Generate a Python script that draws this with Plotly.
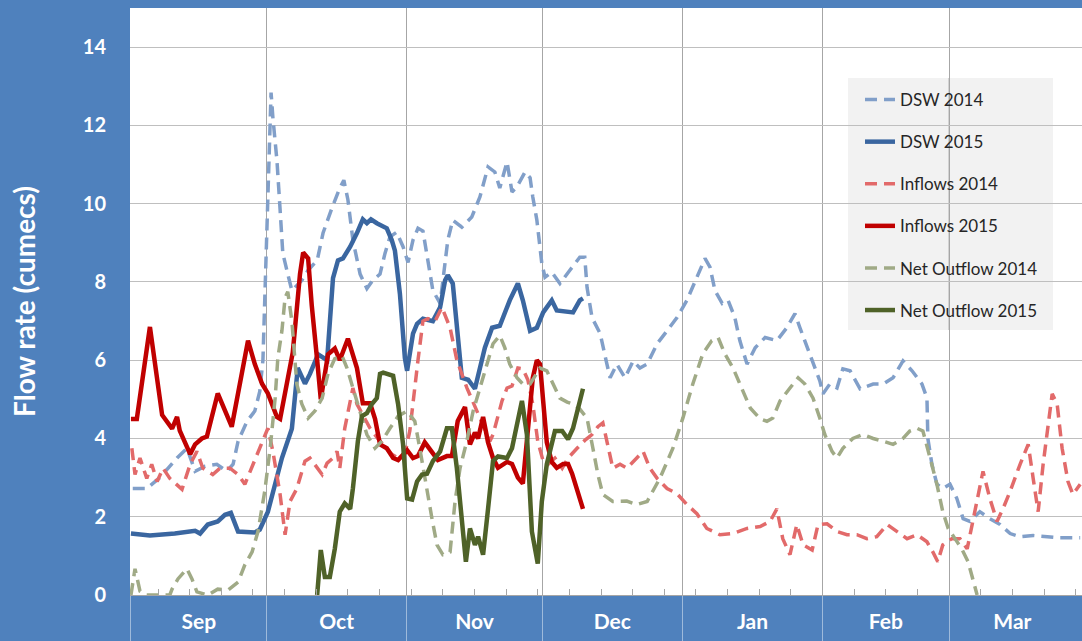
import pandas as pd
import plotly.graph_objects as go

# ---- data: day offsets from 1 Sep (season start) and flow values (cumecs) ----
season_start = "2014-09-01"
month_labels = ["Sep", "Oct", "Nov", "Dec", "Jan", "Feb", "Mar"]

dsw2014_days = [0.4, 3.5, 6.4, 10.2, 12.4, 14.2, 16.4, 19.0, 21.2, 22.6, 23.7, 25.7, 27.4, 28.5, 29.2, 30.3, 31.0, 31.4,
                32.3, 33.0, 33.6, 34.7, 35.6, 37.8, 39.2, 41.2, 42.5, 44.5, 46.2, 47.1, 48.0, 49.1, 50.7, 52.2, 53.5,
                55.1, 56.2, 57.3, 58.8, 60.2, 61.3, 62.4, 63.5, 64.6, 65.7, 66.8, 68.4, 70.1, 71.2, 73.2, 75.4, 77.2,
                79.0, 80.5, 81.6, 83.2, 84.3, 85.4, 87.2, 88.3, 88.9, 89.8, 90.9, 91.6, 93.1, 94.9, 97.1, 99.3, 100.4,
                100.9, 102.0, 103.8, 105.3, 106.0, 107.5, 109.3, 111.1, 112.6, 114.2, 116.4, 118.6, 120.8, 123.0,
                125.2, 127.0, 128.1, 129.2, 130.8, 132.1, 133.6, 134.7, 136.3, 138.1, 140.3, 142.9, 145.1, 146.9,
                148.0, 149.6, 150.9, 152.4, 153.1, 154.6, 156.2, 157.5, 159.1, 161.3, 164.2, 166.4, 168.6, 170.8,
                172.8, 175.0, 176.1, 176.3, 177.2, 178.3, 179.6, 181.2, 182.7, 184.1, 185.6, 187.8, 190.0, 192.3,
                194.5, 196.7, 199.6, 202.7, 205.5, 210.0]
dsw2014_vals = [2.72, 2.72, 3.0, 3.5, 3.75, 3.16, 3.29, 3.34, 3.16, 3.34, 3.93, 4.44, 4.7, 5.2, 6.0, 10.3, 12.84, 12.2,
                11.1, 9.84, 8.73, 8.2, 7.78, 8.04, 8.3, 8.55, 9.25, 9.9, 10.4, 10.6, 10.1, 9.07, 8.2, 7.83, 8.04,
                8.2, 8.73, 9.15, 9.27, 8.9, 8.5, 9.07, 9.37, 9.3, 8.47, 7.78, 7.45, 9.07, 9.58, 9.4, 9.66, 10.17,
                10.94, 10.81, 10.4, 11.07, 10.3, 10.43, 10.81, 10.66, 10.17, 9.58, 8.47, 8.12, 8.25, 7.96, 8.3, 8.63,
                8.63, 7.86, 7.09, 6.68, 5.9, 5.55, 5.9, 5.55, 5.98, 5.8, 5.9, 6.42, 6.75, 7.09, 7.53, 8.12, 8.6,
                8.38, 7.78, 7.45, 7.53, 7.09, 6.5, 5.9, 6.32, 6.58, 6.5, 6.83, 7.19, 6.83, 6.32, 5.9, 5.47, 5.14,
                5.39, 5.29, 5.78, 5.73, 5.27, 5.39, 5.39, 5.55, 5.98, 5.73, 5.39, 5.03, 4.0, 3.34, 2.83, 2.72, 2.83,
                2.47, 1.95, 1.88, 2.13, 1.95, 1.8, 1.57, 1.49, 1.52, 1.49, 1.46, 1.46]

dsw2015_days = [0, 4.2, 9.7, 14.2, 15.3, 17.0, 19.2, 20.8, 22.1, 23.7, 27.4, 28.5, 30.3, 31.9, 33.4, 35.6, 36.9, 38.5,
                39.6, 41.4, 42.9, 43.4, 44.7, 45.8, 46.9, 48.5, 50.0, 51.3, 52.2, 53.1, 54.4, 55.8, 56.6, 57.7, 58.4,
                59.5, 60.6, 61.1, 62.4, 63.3, 64.6, 66.8, 68.4, 69.5, 70.1, 71.2, 72.1, 73.2, 74.6, 76.1, 78.3, 79.9,
                81.6, 83.8, 85.6, 86.7, 88.3, 89.8, 91.2, 93.1, 94.2, 96.5, 97.8, 99.3, 100.0]
dsw2015_vals = [1.57, 1.52, 1.57, 1.64, 1.57, 1.8, 1.88, 2.05, 2.1, 1.62, 1.6, 1.67, 2.13, 2.8, 3.5, 4.25, 5.8, 5.4,
                5.65, 6.15, 6.05, 6.0, 8.1, 8.55, 8.6, 8.9, 9.25, 9.6, 9.5, 9.6, 9.5, 9.4, 9.37, 9.07, 8.8,
                7.7, 6.06, 5.73, 6.68, 6.93, 7.06, 7.0, 7.35, 8.04, 8.17, 7.96, 6.83, 5.55, 5.5, 5.27, 6.32, 6.83,
                6.88, 7.53, 7.96, 7.53, 6.75, 6.83, 7.22, 7.53, 7.27, 7.22, 7.22, 7.53, 7.58]

inflow2014_days = [0.2, 0.9, 2.0, 3.5, 4.6, 5.8, 7.1, 8.6, 11.3, 13.1, 14.6, 15.9, 18.1, 19.7, 21.9, 23.7, 25.2, 27.0,
                   29.0, 30.3, 31.4, 33.0, 34.1, 35.2, 36.7, 38.5, 39.6, 40.7, 42.3, 43.4, 44.7, 45.6, 46.2, 47.3,
                   48.5, 49.1, 50.0, 51.3, 52.9, 54.6, 56.2, 57.7, 59.1, 60.6, 61.7, 62.6, 63.5, 64.6, 65.7, 67.3,
                   68.8, 70.6, 72.1, 74.3, 76.5, 77.9, 79.4, 80.1, 82.1, 83.2, 84.3, 85.6, 86.7, 87.8, 88.9, 90.0,
                   91.2, 92.3, 93.8, 95.4, 96.7, 98.7, 100.4, 102.0, 103.3, 104.4, 105.5, 106.6, 108.2, 109.7, 111.9,
                   113.3, 114.8, 116.4, 118.6, 120.8, 123.0, 125.2, 127.4, 130.3, 133.2, 136.3, 139.2, 141.4, 142.9,
                   144.2, 145.8, 147.3, 148.7, 150.7, 152.0, 154.0, 156.2, 158.4, 160.6, 162.8, 165.0, 167.3, 169.5,
                   171.7, 173.9, 176.1, 177.4, 178.5, 179.6, 181.6, 183.4, 185.0, 186.1, 187.2, 188.5, 190.0, 191.6,
                   192.9, 194.5, 196.7, 198.5, 199.6, 200.7, 201.8, 203.8, 204.9, 206.0, 207.3, 208.4, 210.0]
inflow2014_vals = [3.75, 3.08, 3.5, 2.98, 3.34, 2.9, 3.24, 2.98, 2.7, 3.34, 3.67, 3.24, 3.08, 3.24, 3.24, 3.08, 2.83, 3.34,
                   3.93, 4.26, 3.67, 2.57, 1.54, 2.39, 2.72, 3.42, 3.5, 3.34, 3.08, 3.37, 3.5, 3.67, 3.24, 4.26,
                   5.03, 5.29, 4.88, 4.62, 4.26, 4.0, 3.8, 3.6, 3.5, 3.6, 4.2, 5.2, 6.0, 7.0, 7.06, 7.0,
                   7.35, 6.83, 6.0, 5.3, 4.7, 4.37, 3.93, 4.1, 4.96, 5.29, 5.34, 5.8, 5.78, 5.5, 4.88, 3.93,
                   3.42, 3.34, 3.5, 3.24, 3.5, 3.75, 3.95, 4.1, 4.3, 4.4, 3.85, 3.24, 3.34, 3.24, 3.5,
                   3.67, 3.24, 2.98, 2.72, 2.59, 2.31, 2.08, 1.7, 1.54, 1.57, 1.7, 1.75, 1.88, 2.2,
                   1.44, 1.03, 1.8, 1.28, 1.15, 1.8, 1.82, 1.62, 1.54, 1.54, 1.44, 1.49, 1.8, 1.62,
                   1.44, 1.54, 1.36, 1.1, 0.85, 1.28, 1.44, 1.44, 1.18, 1.8, 2.47, 3.16, 2.47, 1.88,
                   2.2, 2.65, 3.34, 3.85, 2.98, 2.13, 3.34, 5.14, 4.88, 3.75, 2.9, 2.57, 2.83]

inflow2015_days = [0, 1.3, 4.2, 6.9, 9.1, 10.2, 10.8, 13.1, 14.2, 15.7, 16.8, 19.2, 22.3, 25.9, 27.4, 29.0, 30.3, 32.3,
                   33.0, 34.7, 35.8, 37.4, 38.1, 39.2, 40.0, 41.2, 42.0, 43.6, 45.1, 46.2, 48.0, 50.0, 51.3, 52.9,
                   54.0, 55.1, 56.6, 58.0, 59.1, 61.1, 62.4, 63.5, 65.0, 66.6, 67.9, 69.9, 71.0, 72.3, 73.9, 75.0,
                   76.1, 76.8, 77.9, 79.0, 80.1, 81.2, 83.2, 84.3, 85.6, 86.7, 87.8, 88.9, 89.8, 90.5, 91.2, 92.0,
                   93.1, 94.2, 95.6, 96.7, 97.6, 98.7, 100.0]
inflow2015_vals = [4.5, 4.5, 6.85, 4.6, 4.25, 4.55, 4.2, 3.6, 3.85, 4.0, 4.05, 5.15, 4.3, 6.5, 5.9, 5.4, 5.15, 4.55,
                   4.5, 5.55, 6.2, 8.2, 8.75, 8.6, 7.4, 6.0, 5.0, 6.15, 6.3, 6.0, 6.55, 5.8, 4.9, 4.9,
                   4.5, 3.85, 3.75, 3.5, 3.45, 3.7, 3.5, 3.55, 3.9, 3.65, 3.45, 3.55, 3.55, 4.45, 4.8, 3.85,
                   4.15, 4.0, 4.55, 3.9, 3.5, 3.25, 3.4, 3.35, 3.0, 2.85, 4.1, 5.55, 6.0, 5.9, 4.95, 3.9,
                   3.4, 3.25, 3.35, 3.35, 3.1, 2.65, 2.2]

net2014_days = [0, 0.9, 2.0, 3.5, 8.6, 9.1, 10.4, 12.4, 13.5, 14.6, 17.0, 19.2, 21.5, 23.7, 25.2, 26.8, 28.1, 29.6,
                30.8, 31.9, 32.5, 33.4, 34.1, 34.7, 35.6, 36.7, 37.8, 39.2, 40.7, 42.3, 43.6, 45.1, 46.7, 47.8,
                49.1, 50.7, 52.2, 54.0, 55.5, 57.3, 59.1, 61.1, 62.8, 63.9, 65.0, 66.6, 67.7, 69.0, 70.6, 71.7,
                72.8, 74.3, 75.7, 77.2, 78.8, 80.1, 81.6, 82.7, 83.8, 85.4, 86.7, 88.3, 90.5, 92.0, 93.4, 94.9,
                96.5, 97.8, 99.3, 100.9, 102.2, 103.3, 104.4, 106.6, 109.7, 111.9, 114.2, 115.5, 117.0, 117.7,
                119.9, 122.1, 124.3, 126.5, 128.5, 129.9, 131.4, 133.2, 135.2, 137.0, 139.2, 140.7, 142.0, 143.6,
                145.8, 147.6, 149.1, 150.9, 152.4, 153.5, 155.1, 156.2, 157.5, 159.7, 161.9, 164.2, 166.4, 168.6,
                170.8, 172.3, 173.9, 175.2, 176.8, 178.3, 179.6, 180.8, 182.3, 183.8, 185.2, 186.3, 187.2]
net2014_vals = [0.0, 0.67, 0.1, 0.0, 0.0, 0.15, 0.41, 0.67, 0.41, 0.08, 0.0, 0.15, 0.13, 0.33, 0.77, 1.1, 1.62, 2.65,
                3.75, 5.03, 6.06, 6.75, 7.6, 7.75, 7.0, 5.39, 4.88, 4.52, 4.7, 5.03, 5.65, 6.04, 6.11, 5.8,
                5.29, 4.7, 4.1, 3.75, 3.93, 4.26, 4.57, 4.7, 4.44, 3.75, 2.98, 1.95, 1.28, 1.03, 1.1, 2.39,
                3.24, 3.93, 4.7, 5.29, 5.9, 6.42, 6.63, 6.32, 5.9, 5.55, 5.39, 5.39, 5.8, 5.73, 5.39, 5.03,
                4.93, 4.88, 4.75, 4.52, 3.75, 3.08, 2.57, 2.39, 2.4, 2.31, 2.39, 2.65, 2.98, 3.16,
                3.75, 4.52, 5.39, 6.16, 6.5, 6.58, 6.16, 5.8, 5.29, 4.78, 4.5, 4.44, 4.52, 4.96,
                5.29, 5.55, 5.39, 5.03, 4.52, 4.1, 3.67, 3.5, 3.75, 4.0, 4.1, 4.0, 3.93, 3.85,
                4.0, 4.19, 4.26, 4.19, 3.5, 2.83, 2.13, 1.7, 1.44, 1.18, 0.85, 0.41, 0.0]

net2015_days = [41.2, 42.0, 42.9, 44.0, 45.1, 46.2, 47.3, 48.5, 49.1, 50.2, 51.1, 52.2, 53.3, 54.4, 55.1, 55.8, 58.0,
                59.1, 60.2, 61.1, 62.2, 63.3, 64.4, 65.5, 66.8, 68.4, 69.9, 71.0, 72.1, 73.2, 74.1, 75.0, 76.1,
                76.8, 77.9, 79.0, 80.1, 81.2, 83.2, 84.3, 85.4, 86.5, 87.6, 88.7, 90.0, 90.9, 92.0, 93.8, 95.4,
                96.7, 97.8, 99.3, 100.0]
net2015_vals = [0.0, 1.15, 0.46, 0.46, 1.18, 2.13, 2.34, 2.2, 2.72, 3.93, 4.57, 4.65, 4.88, 5.03, 5.65, 5.68, 5.6,
                4.88, 3.85, 2.47, 2.44, 2.9, 3.08, 3.1, 3.42, 3.67, 4.26, 4.26, 3.24, 1.95, 0.85, 1.7, 1.28,
                1.49, 1.03, 2.2, 3.42, 3.54, 3.5, 3.75, 4.37, 4.96, 4.1, 1.62, 0.8, 2.39, 3.34, 4.19, 4.19,
                3.98, 4.26, 4.88, 5.27]

series = [
    ("DSW 2014", dsw2014_days, dsw2014_vals, "#819FC9", "12px,7px", 3.5),
    ("DSW 2015", dsw2015_days, dsw2015_vals, "#3A66A0", "solid", 4.5),
    ("Inflows 2014", inflow2014_days, inflow2014_vals, "#E26A6A", "12px,7px", 3.5),
    ("Inflows 2015", inflow2015_days, inflow2015_vals, "#C00000", "solid", 4.5),
    ("Net Outflow 2014", net2014_days, net2014_vals, "#A0AA86", "12px,7px", 3.5),
    ("Net Outflow 2015", net2015_days, net2015_vals, "#4F6228", "solid", 4.5),
]

start = pd.Timestamp(season_start)
fig = go.Figure()
for i, (name, days, vals, color, dash, width) in enumerate(series):
    xs = start + pd.to_timedelta(days, unit="D")
    fig.add_trace(go.Scatter(x=xs, y=vals, mode="lines", name=name, legendgroup=f"g{i}",
                             line=dict(color=color, dash=dash, width=width)))

W, H = 1082, 641
ML, MR, MT, MB = 130, 0, 8, 46
pw, ph = W - ML - MR, H - MT - MB

def px_x(x):
    return (x - ML) / pw

def px_y(y):
    return (H - MB - y) / ph

font_family = "Lato, 'Open Sans', sans-serif"
fig.update_layout(
    width=W, height=H,
    margin=dict(l=ML, r=MR, t=MT, b=MB),
    paper_bgcolor="#4F81BD",
    plot_bgcolor="#FFFFFF",
    font=dict(family=font_family),
    showlegend=True,
    legend=dict(x=px_x(860), y=px_y(82), xanchor="left", yanchor="top",
                bgcolor="rgba(0,0,0,0)", font=dict(size=17, color="#262626", family=font_family),
                tracegroupgap=17, itemwidth=30),
    shapes=[
        dict(type="rect", xref="paper", yref="paper", x0=px_x(848), x1=px_x(1053), y0=px_y(330), y1=px_y(78),
             fillcolor="#F2F2F2", line=dict(width=0), layer="between"),
        dict(type="line", xref="x", yref="paper", x0="2015-03-01", x1="2015-03-01", y0=px_y(330), y1=px_y(78),
             line=dict(color="#A6A6A6", width=1), layer="between"),
    ],
)

fig.update_xaxes(
    type="date",
    range=[start - pd.Timedelta(hours=5), start + pd.Timedelta(days=210.4)],
    tick0=season_start, dtick="M1", tickformat="%b", ticklabelmode="period",
    showgrid=True, gridcolor="#A6A6A6", gridwidth=1,
    ticks="outside", ticklen=46, tickwidth=1, tickcolor="rgba(255,255,255,0.45)",
    ticklabelstandoff=-38,
    tickfont=dict(size=21, color="white", family=font_family, weight="bold"),
    showline=True, linecolor="#A6A6A6", linewidth=1,
    minor=dict(ticks="inside", ticklen=6, tickcolor="#A6A6A6", dtick=7 * 24 * 3600 * 1000,
               tick0="2014-09-07", showgrid=False),
    zeroline=False,
)
fig.update_yaxes(
    range=[0, 15], tick0=0, dtick=2,
    showgrid=True, gridcolor="#BFBFBF", gridwidth=1, zeroline=False,
    ticks="", ticklabelstandoff=23,
    tickfont=dict(size=20, color="white", family=font_family, weight="bold"),
    title=dict(text="Flow rate (cumecs)", standoff=38,
               font=dict(size=28, color="white", family=font_family, weight="bold")),
)

fig.write_html("out.html", post_script="document.body.style.margin='0';",
               config={"displayModeBar": False})
